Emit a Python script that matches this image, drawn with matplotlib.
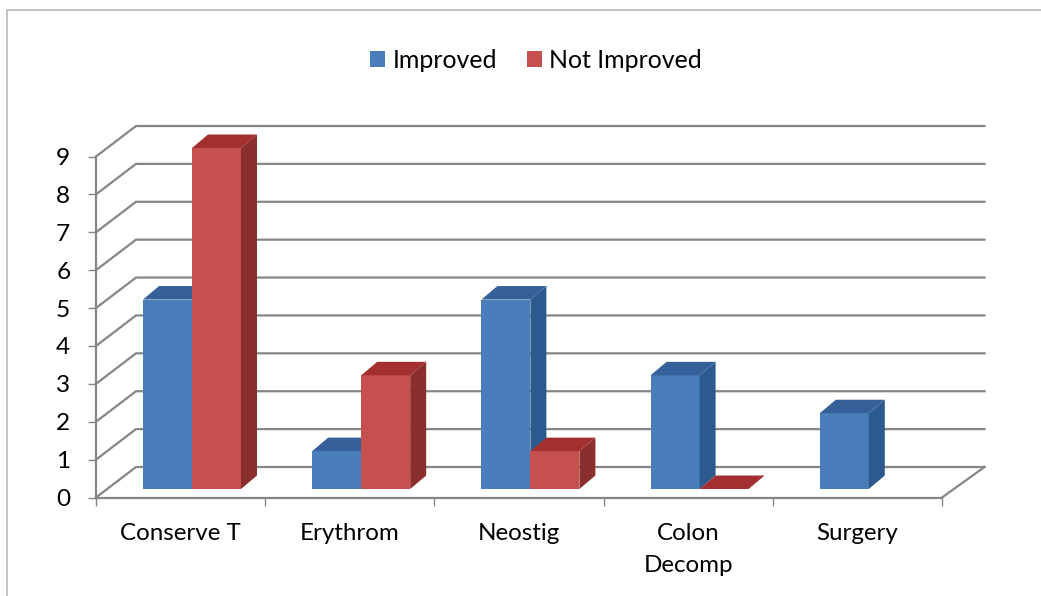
import numpy as np
from matplotlib import pyplot as plt
from matplotlib.patches import Polygon, Patch

categories = ['Conserve T', 'Erythrom', 'Neostig', 'Colon\nDecomp', 'Surgery']
improved = [5, 1, 5, 3, 2]
not_improved = [9, 3, 1, 0, np.nan]
y_ticks = list(range(10))

# colours as front, top, side of a bar
blue = ('#4a7ebb', '#35609a', '#2c5a8e')
red = ('#c5504d', '#a32f30', '#8a2f2e')

plt.rcParams['font.family'] = ['Lato', 'DejaVu Sans']
W, H = 1041, 596
fig = plt.figure(figsize=(W / 100, H / 100), dpi=100)

# front plane of the fake 3d box, in pixels
left, right, bottom, top = 96, 942, 497.5, 156.5
ax = fig.add_axes([left / W, 1 - bottom / H, (right - left) / W, (bottom - top) / H])
ax.set_xlim(0, 5)
ax.set_ylim(0, 9)

px = 5 / (right - left)
py = 9 / (bottom - top)
wall_dx, wall_dy = 40 * px, 30.5 * py
end_dx = 42.5 * px
bar_dx, bar_dy = 16 * px, 13.5 * py
base_dx, base_dy = 11 * px, 8.5 * py
bar_w = 49 * px
gap = 36 * px

grey = '#868686'

# walls
for v in y_ticks:
    ax.plot([0, wall_dx, 5 + end_dx], [v, v + wall_dy, v + wall_dy],
            color=grey, lw=1.6, clip_on=False, zorder=1, solid_joinstyle='miter')
ax.plot([5, 5 + end_dx], [0, wall_dy], color=grey, lw=1.6, clip_on=False, zorder=1)


def draw_bar(x0, v, cols):
    x = x0 + base_dx
    b = base_dy
    t = b + v
    w = bar_w
    kw = dict(clip_on=False, zorder=3, lw=0)
    if v > 0:
        ax.add_patch(Polygon([(x, b), (x + w, b), (x + w, t), (x, t)], fc=cols[0], **kw))
        ax.add_patch(Polygon([(x + w, b), (x + w + bar_dx, b + bar_dy),
                              (x + w + bar_dx, t + bar_dy), (x + w, t)], fc=cols[2], **kw))
    ax.add_patch(Polygon([(x, t), (x + w, t), (x + w + bar_dx, t + bar_dy),
                          (x + bar_dx, t + bar_dy)], fc=cols[1], **kw))


for i in range(len(categories)):
    draw_bar(i + gap, improved[i], blue)
    if not np.isnan(not_improved[i]):
        draw_bar(i + gap + bar_w, not_improved[i], red)

for s in ['top', 'right']:
    ax.spines[s].set_visible(False)
for s in ['left', 'bottom']:
    ax.spines[s].set_color(grey)
    ax.spines[s].set_linewidth(1.6)
    ax.spines[s].set_zorder(2)

ax.set_yticks(y_ticks)
ax.set_xticks(range(6))
ax.set_xticklabels([])
ax.set_xticks(np.arange(len(categories)) + 0.5, minor=True)
ax.set_xticklabels(categories, minor=True, linespacing=1.68)
ax.tick_params(axis='x', which='major', length=6, width=1, color=grey)
ax.tick_params(axis='x', which='minor', length=0, pad=18, labelsize=17.4, colors='black')
ax.tick_params(axis='y', length=6, width=1, color=grey, pad=12.5, labelsize=17.6)
ax.patch.set_alpha(0)

handles = [Patch(fc=blue[0], label='Improved'), Patch(fc=red[0], label='Not Improved')]
fig.legend(handles=handles, ncol=2, loc='center', bbox_to_anchor=(536 / W, 1 - 60 / H),
           frameon=False, fontsize=17.9, handlelength=0.6, handleheight=0.6,
           handletextpad=0.3, columnspacing=1.2, borderpad=0)

# chart frame
fig.add_artist(plt.Line2D([7 / W, 7 / W, 1], [0, 1 - 10 / H, 1 - 10 / H],
                          color='#b4b4b4', lw=1.1))

fig.savefig('out.png', dpi=100)
